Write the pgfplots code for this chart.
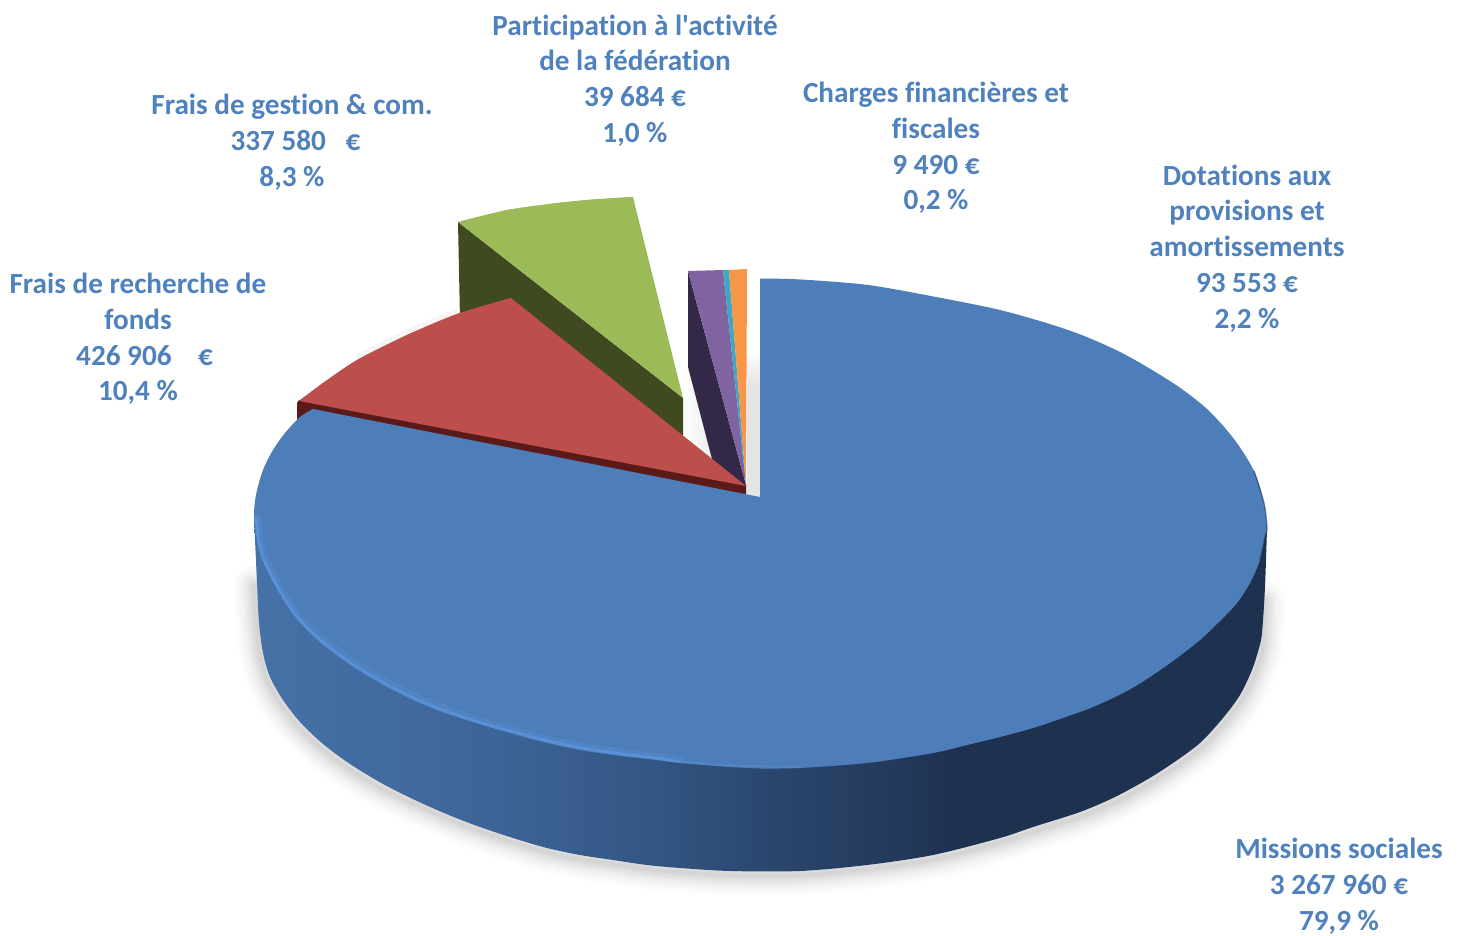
\documentclass[border=0pt]{standalone}
\usepackage{pgfplots}
\pgfplotsset{compat=1.18}
\usepackage{fontspec}
\setmainfont{Carlito}
\newfontfamily\piefont{Carlito}[Ligatures=NoCommon]
\definecolor{labelblue}{HTML}{4F81BD}
\definecolor{topblue}{HTML}{4D7EBA}
\definecolor{rimlight}{HTML}{5C93DC}
\definecolor{sa}{HTML}{4672A8}
\definecolor{sb}{HTML}{3D6497}
\definecolor{sc}{HTML}{335784}
\definecolor{sd}{HTML}{2D4B75}
\definecolor{se}{HTML}{294369}
\definecolor{sf}{HTML}{22395B}
\definecolor{sg}{HTML}{1E3250}
\definecolor{redtop}{HTML}{BC4E4B}
\definecolor{redside}{HTML}{5A1A19}
\definecolor{greentop}{HTML}{9BBB59}
\definecolor{greenside}{HTML}{3F4A20}
\definecolor{purpletop}{HTML}{8064A2}
\definecolor{purpleside}{HTML}{332847}
\definecolor{tealtop}{HTML}{41A6C3}
\definecolor{orangetop}{HTML}{F79646}
\definecolor{gapgray}{HTML}{E4E4E4}
\pgfdeclarehorizontalshading{sideblue}{100bp}{color(0bp)=(sa); color(25bp)=(sa); color(37.1bp)=(sb); color(44.5bp)=(sc); color(48.5bp)=(sd); color(51.9bp)=(se); color(56.9bp)=(sf); color(59.4bp)=(sg); color(100bp)=(sg)}
\tikzset{pielabel/.style={align=center, inner sep=0pt, text=labelblue, font=\piefont\fontsize{29.2}{35.8}\selectfont\bfseries}}
\begin{document}
\begin{tikzpicture}
\begin{axis}[
  scale only axis, width=1459pt, height=936pt,
  xmin=0, xmax=1459, ymin=0, ymax=936, y dir=reverse,
  hide axis, clip=false,
]
\path (axis cs:0,0) rectangle (axis cs:1459,936);
% soft shadow under the disc
\foreach \w/\o in {40/0.012, 35/0.012, 30/0.014, 25/0.016, 20/0.018, 16/0.02, 12/0.024, 8/0.028, 4/0.03}{
\edef\tmp{\noexpand\addplot[smooth, draw=black, opacity=\o, line width=\w pt, line cap=round, line join=round]}
\tmp coordinates {(1265,600)(1264,636)(1262,651)(1255,673)(1243,698)(1226,721)(1203,746)(1175,767)(1150,783)(1117,801)(1082,816)(1035,831)(1001,842)(934,859)(867,869)(800,875)(730,875)(680,872)(647,869)(613,864)(580,859)(547,852)(513,842)(480,831)(449,819)(415,804)(381,788)(348,768)(321,748)(297,725)(280,703)(267,680)(260,655)(256,623)(254,585)};
}
% gap shadows
\addplot[top color=white, bottom color=gapgray, draw=none] coordinates {(747,352)(760,352)(760,385)(747,385)} -- cycle;
\addplot[fill=gapgray, draw=none] coordinates {(747,384)(760,384)(760,498)(747,495)} -- cycle;
\addplot[left color=white, right color=gapgray!70, draw=none] coordinates {(683,362)(689,362)(712,459)(683,436)} -- cycle;
% green slice
\addplot[fill=greenside, draw=none] coordinates {(458,222)(683,398)(683,442)(460,320)} -- cycle;
\addplot[fill=greentop, draw=none] coordinates {(458,222)(507,210)(557,203)(593,199.5)(633,197)(683,398)} -- cycle;
\addplot[smooth, fill=greentop, draw=none] coordinates {(458,222)(507,210)(557,203)(593,199.5)(633,197)};
% small slices
\addplot[fill=purpleside, draw=none] coordinates {(688,271)(746,485)(746,492)(712,459)(688,367)} -- cycle;
\addplot[fill=purpletop, draw=none] coordinates {(688,271)(723,270)(746,485)} -- cycle;
\addplot[fill=tealtop, draw=none] coordinates {(723,270)(729,270)(746,485)} -- cycle;
\addplot[fill=orangetop, draw=none] coordinates {(729,270)(747,269)(746,485)} -- cycle;
% red slice
\addplot[smooth, draw=black, opacity=0.04, line width=7pt] coordinates {(458,312)(407,333)(357,358)};
\addplot[fill=redside, draw=none] coordinates {(299,400)(297,403)(297,423)(746,496)(746,485)(510,420)} -- cycle;
\addplot[fill=redtop, draw=none] coordinates {(511,298)(746,486)(299,401)(323,383)(357,360)(407,335)(457,314)} -- cycle;
\addplot[smooth, fill=redtop, draw=none] coordinates {(299,401)(323,383)(357,360)(407,335)(457,314)(511,298)};
% blue slice: side
\addplot[smooth, shading=sideblue, draw=none] coordinates {(1267,528)(1265,587)(1262,633)(1259,648)(1252,670)(1240,695)(1223,718)(1200,743)(1173,763)(1148,779)(1115,797)(1080,812)(1033,827)(1000,838)(933,855)(867,865)(800,871)(730,871)(680,868)(647,865)(613,860)(580,855)(547,848)(513,838)(480,827)(450,815.5)(417,801)(383,784)(350,764)(323,744)(300,722)(283,700)(270,677)(263,653)(259,623)(257,583)(254,517)};
% blue slice: top
\addplot[smooth, fill=topblue, draw=none] coordinates {(760,278.5)(801,279.5)(868,285)(936,297)(1004,311)(1071,331)(1122,353)(1173,383)(1207,409)(1234,439)(1254,471)(1264,503)(1267,528)(1265,537)(1260,560)(1250,583)(1237,603)(1220,621)(1200,640)(1177,658)(1153,675)(1127,691)(1093,707)(1060,719)(1033,728)(1000,737)(967,745)(933,753)(867,763)(800,768)(760,768.5)};
\addplot[smooth, fill=topblue, draw=none] coordinates {(760,768.5)(730,767)(680,763)(647,759)(613,755)(580,750)(547,743)(513,734)(490,727)(450,715)(417,702)(383,685)(350,665)(317,640)(293,615)(277,590)(263,563)(257,543)(254,517)(256,495)(263,470)(273,450)(285,433)(300,417)(313,409)};
\addplot[fill=topblue, draw=none] coordinates {(760,497)(800,530)(800,760)(760,768)(700,740)(400,650)(300,450)(313,409)} -- cycle;
% rim highlight and dark edge
\addplot[smooth, draw=rimlight, opacity=0.3, line width=6pt, line cap=round, line join=round] coordinates {(258,517)(261,541)(267,561)(281,588)(297,613)(320,636)(353,661)(386,681)(420,698)(453,711)(492,724)(515,730)(549,739)(582,746)(615,751)(648,755)(680,759)};
\addplot[smooth, draw=rimlight, opacity=0.85, line width=2.8pt, line cap=round, line join=round] coordinates {(256,517)(259,542)(265,562)(279,589)(295,614)(318,638)(351,663)(384,683)(418,700)(451,713)(491,726)(514,732)(548,741)(581,748)(614,753)(648,757)(680,761.5)};
\addplot[smooth, draw=rimlight, opacity=0.4, line width=2pt, line cap=round, line join=round] coordinates {(680,761.5)(730,765.5)(800,767)};
\addplot[smooth, draw=sg, opacity=0.5, line width=1.4pt, line cap=round, line join=round] coordinates {(1254,471)(1264,503)(1267,528)(1265,537)(1260,560)};
% labels
\node[pielabel] at (axis cs:635,80.5) {Participation à l'activité\\de la fédération\\39 684 €\\1,0 \%};
\node[pielabel] at (axis cs:292,142.5) {Frais de gestion \& com.\\\hspace*{7pt}337 580 \ \ €\\8,3 \%};
\node[pielabel] at (axis cs:138,339) {Frais de recherche de\\fonds\\\hspace*{13pt}426 906 \ \ \ €\\10,4 \%};
\node[pielabel] at (axis cs:936,148) {Charges financières et\\fiscales\\9 490 €\\0,2 \%};
\node[pielabel] at (axis cs:1247,248.5) {Dotations aux\\provisions et\\amortissements\\93 553 €\\2,2 \%};
\node[pielabel] at (axis cs:1339,886.5) {Missions sociales\\3 267 960 €\\79,9 \%};
\end{axis}
\end{tikzpicture}
\end{document}
